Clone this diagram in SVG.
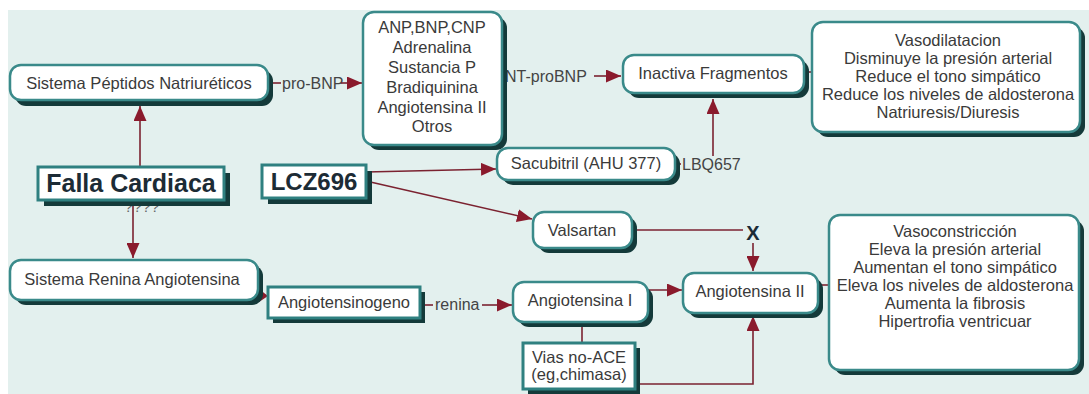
<svg xmlns="http://www.w3.org/2000/svg" width="1089" height="394" viewBox="0 0 1089 394">
<defs>
<style>
.bg{fill:#e3f0ee}
.sh{fill:#143a3a}
.box{fill:#ffffff;stroke:#3a8a8a;stroke-width:2.5}
.sq{fill:#ffffff;stroke:#2f8080;stroke-width:3}
.t{font-family:"Liberation Sans",Arial,sans-serif;font-size:16.5px;fill:#3a3a3a;text-anchor:middle}
.b{font-family:"Liberation Sans",Arial,sans-serif;font-weight:bold;font-size:25px;fill:#1c2b35;text-anchor:middle}
.lbl{font-family:"Liberation Sans",Arial,sans-serif;font-size:16px;fill:#444444}
.ln{fill:none;stroke:#7b2230;stroke-width:1.6}
.arr{marker-end:url(#ah)}
</style>
<marker id="ah" markerUnits="userSpaceOnUse" markerWidth="15" markerHeight="13" refX="15" refY="6.5" orient="auto">
<path d="M0,0 L15,6.5 L0,13 z" fill="#8a1a2c"/>
</marker>
</defs>
<rect class="bg" x="8" y="10" width="1081" height="384"/>

<g id="connectors">
<text class="lbl" x="142" y="212" text-anchor="middle" style="font-size:15px;fill:#666666;letter-spacing:0.5px">????</text>
<path class="ln arr" d="M140,167 V106"/>
<path class="ln arr" d="M133,200 V258"/>
<path class="ln" d="M268,83 H281"/>
<text class="lbl" x="282" y="89">pro-BNP</text>
<path class="ln arr" d="M341,83 H362"/>
<text class="lbl" x="505" y="82">NT-proBNP</text>
<path class="ln arr" d="M594,76 H621"/>
<path class="ln" d="M804,72 H812"/>
<path class="ln arr" d="M366,172 L496,169"/>
<path class="ln arr" d="M366,181 L532,219"/>
<path class="ln" d="M675,164 H681"/>
<text class="lbl" x="682" y="170">LBQ657</text>
<path class="ln arr" d="M713,156 V99"/>
<path class="ln" d="M632,230 H743"/>
<text x="753" y="240" text-anchor="middle" style="font-family:'Liberation Sans',Arial,sans-serif;font-weight:bold;font-size:20px;fill:#1c2b35">X</text>
<path class="ln arr" d="M753,243 V271"/>
<path d="M259,289 L268,296 L259,302 z" fill="#8a1a2c"/>
<path class="ln" d="M420,305 H433"/>
<text class="lbl" x="435" y="310">renina</text>
<path class="ln arr" d="M482,305 H512"/>
<path class="ln arr" d="M648,290 H682"/>
<path class="ln" d="M582,322 V343"/>
<path class="ln arr" d="M635,384 H753 V316"/>
<path class="ln" d="M818,285 H829"/>
</g>

<g id="n-spn">
<rect class="sh" x="15" y="70" width="258" height="36" rx="11"/>
<rect class="box" x="10" y="65" width="258" height="35" rx="11"/>
<text class="t" x="139" y="89">Sistema Péptidos Natriuréticos</text>
</g>

<g id="n-anp">
<rect class="sh" x="368" y="17" width="139" height="133" rx="11"/>
<rect class="box" x="363" y="12" width="139" height="133" rx="11"/>
<text class="t" x="432" y="33">ANP,BNP,CNP</text>
<text class="t" x="432" y="53">Adrenalina</text>
<text class="t" x="432" y="73">Sustancia P</text>
<text class="t" x="432" y="93">Bradiquinina</text>
<text class="t" x="432" y="113">Angiotensina II</text>
<text class="t" x="432" y="132">Otros</text>
</g>

<g id="n-if">
<rect class="sh" x="628" y="60" width="181" height="38" rx="11"/>
<rect class="box" x="623" y="55" width="181" height="38" rx="11"/>
<text class="t" x="713" y="79">Inactiva Fragmentos</text>
</g>

<g id="n-vd">
<rect class="sh" x="817" y="27" width="268" height="110" rx="11"/>
<rect class="box" x="812" y="22" width="268" height="110" rx="11"/>
<text class="t" x="948" y="46">Vasodilatacion</text>
<text class="t" x="948" y="64">Disminuye la presión arterial</text>
<text class="t" x="948" y="82">Reduce el tono simpático</text>
<text class="t" x="948" y="100">Reduce los niveles de aldosterona</text>
<text class="t" x="948" y="118">Natriuresis/Diuresis</text>
</g>

<g id="n-fc">
<rect class="sh" x="44" y="173" width="186" height="33"/>
<rect class="sq" x="38" y="167" width="186" height="33"/>
<text class="b" x="131" y="192">Falla Cardiaca</text>
</g>

<g id="n-lcz">
<rect class="sh" x="268" y="171" width="104" height="33"/>
<rect class="sq" x="262" y="165" width="104" height="33"/>
<text class="b" x="314" y="190" style="font-size:24px">LCZ696</text>
</g>

<g id="n-sac">
<rect class="sh" x="502" y="153" width="178" height="32" rx="11"/>
<rect class="box" x="497" y="148" width="178" height="32" rx="11"/>
<text class="t" x="586" y="169">Sacubitril (AHU 377)</text>
</g>

<g id="n-val">
<rect class="sh" x="538" y="217" width="99" height="36" rx="11"/>
<rect class="box" x="533" y="212" width="99" height="36" rx="11"/>
<text class="t" x="582" y="236">Valsartan</text>
</g>

<g id="n-sra">
<rect class="sh" x="15" y="265" width="248" height="40" rx="11"/>
<rect class="box" x="10" y="260" width="248" height="40" rx="11"/>
<text class="t" x="132" y="285">Sistema Renina Angiotensina</text>
</g>

<g id="n-agn">
<rect class="sh" x="273" y="292" width="152" height="31"/>
<rect class="sq" x="268" y="287" width="152" height="31"/>
<text class="t" x="344" y="308">Angiotensinogeno</text>
</g>

<g id="n-a1">
<rect class="sh" x="518" y="287" width="135" height="40" rx="11"/>
<rect class="box" x="513" y="282" width="135" height="40" rx="11"/>
<text class="t" x="580" y="306">Angiotensina I</text>
</g>

<g id="n-vias">
<rect class="sh" x="528" y="348" width="112" height="46"/>
<rect class="sq" x="523" y="343" width="112" height="46"/>
<text class="t" x="579" y="363">Vias no-ACE</text>
<text class="t" x="579" y="380">(eg,chimasa)</text>
</g>

<g id="n-a2">
<rect class="sh" x="688" y="278" width="135" height="40" rx="11"/>
<rect class="box" x="683" y="273" width="135" height="40" rx="11"/>
<text class="t" x="750" y="297">Angiotensina II</text>
</g>

<g id="n-vc">
<rect class="sh" x="834" y="220" width="250" height="155" rx="11"/>
<rect class="box" x="829" y="215" width="250" height="155" rx="11"/>
<text class="t" x="955" y="237">Vasoconstricción</text>
<text class="t" x="955" y="255">Eleva la presión arterial</text>
<text class="t" x="955" y="273">Aumentan el tono simpático</text>
<text class="t" x="955" y="291">Eleva los niveles de aldosterona</text>
<text class="t" x="955" y="309">Aumenta la fibrosis</text>
<text class="t" x="955" y="327">Hipertrofia ventricuar</text>
</g>
</svg>
